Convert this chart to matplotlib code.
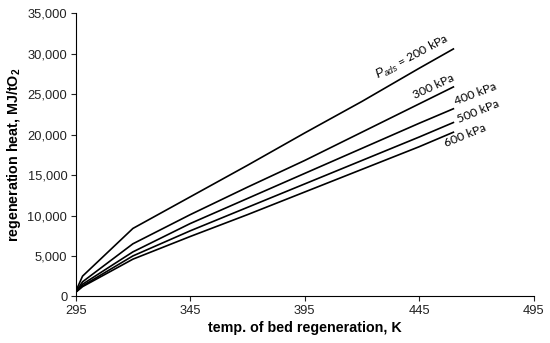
import matplotlib.pyplot as plt
from matplotlib.ticker import FuncFormatter

plt.rcParams.update({
    'font.family': 'sans-serif',
    'font.sans-serif': ['Liberation Sans', 'DejaVu Sans'],
    'font.size': 9.3,
    'mathtext.fontset': 'custom',
    'mathtext.rm': 'Liberation Sans',
    'mathtext.it': 'Liberation Sans:italic',
    'mathtext.bf': 'Liberation Sans:bold',
})

temp_k = [295, 298, 320, 345, 370, 395, 420, 445, 460]
heat_200 = [600, 2500, 8400, 12300, 16200, 20200, 24100, 28200, 30600]
heat_300 = [500, 1800, 6500, 10100, 13500, 16800, 20300, 23800, 25900]
heat_400 = [500, 1500, 5500, 9000, 12100, 15200, 18300, 21400, 23200]
heat_500 = [500, 1300, 5000, 8100, 11000, 13900, 16800, 19700, 21500]
heat_600 = [500, 1200, 4600, 7400, 10100, 12900, 15700, 18500, 20300]

series = [heat_200, heat_300, heat_400, heat_500, heat_600]

fig = plt.figure(figsize=(5.5, 3.43), dpi=100)
ax = fig.add_axes([0.1376, 0.136, 0.8324, 0.825])

for vals in series:
    ax.plot(temp_k, vals, color='black', linewidth=1.2)

ax.set_xlim(295, 495)
ax.set_ylim(0, 35000)
ax.set_xticks([295, 345, 395, 445, 495])
ax.set_yticks(range(0, 35001, 5000))
ax.yaxis.set_major_formatter(FuncFormatter(lambda v, p: f'{int(v):,}'))
ax.spines['top'].set_visible(False)
ax.spines['right'].set_visible(False)
ax.tick_params(direction='out', length=3.5, width=0.8, colors='#222222', pad=2.5)

ax.set_xlabel('temp. of bed regeneration, K', fontsize=10.3, fontweight='bold', labelpad=3)
ax.set_ylabel(r'regeneration heat, MJ/tO$_\mathbf{2}$', fontsize=10.3, fontweight='bold', labelpad=3)

# curve labels (Calibri-like)
lab = dict(family='Lato', fontsize=8.8, ha='left', va='bottom', rotation_mode='anchor')
ax.text(428, 26400, r'$P_{ads}$ = 200 kPa', rotation=28, **lab)
ax.text(443.5, 24200, '300 kPa', rotation=25, **lab)
ax.text(461.5, 23400, '400 kPa', rotation=21, **lab)
ax.text(463, 21200, '500 kPa', rotation=22, **lab)
ax.text(457, 18200, '600 kPa', rotation=22, **lab)

fig.savefig('out.png', dpi=100)
